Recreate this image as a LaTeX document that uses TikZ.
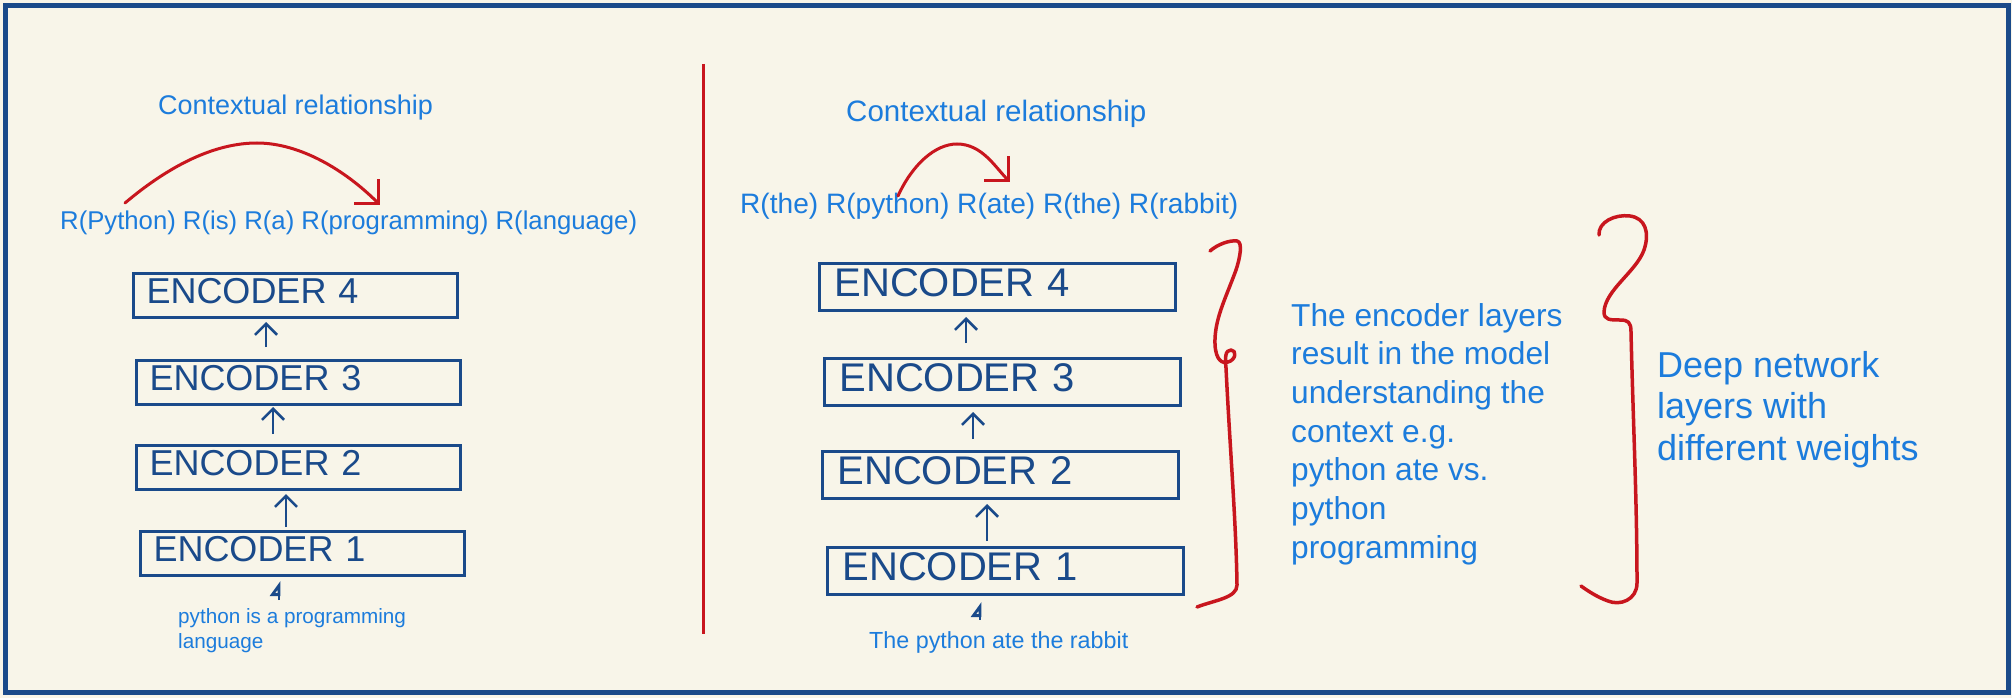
\documentclass[tikz,border=0pt]{standalone}
\usepackage{fontspec}
\setmainfont{Liberation Sans}
\usetikzlibrary{arrows.meta}
\definecolor{bgc}{HTML}{F8F5E9}
\definecolor{dblue}{HTML}{1A4A8A}
\definecolor{tblue}{HTML}{1C7CDC}
\definecolor{rred}{HTML}{C8161E}
\begin{document}
\begin{tikzpicture}[x=1pt,y=-1pt,
 encl/.style={draw=dblue, line width=3pt, text=dblue, anchor=north west, minimum height=44pt, inner xsep=13pt, inner ysep=0pt, text width=298pt, align=left, font=\fontsize{36pt}{40pt}\selectfont, text height=26pt, text depth=10pt},
 encr/.style={encl, minimum height=47pt, inner xsep=15pt, text width=326pt, font=\fontsize{40pt}{44pt}\selectfont, text height=29pt, text depth=11pt},
 txt/.style={text=tblue, inner sep=0pt, anchor=base west, align=left},
 uparr/.style={draw=dblue, line width=2.6pt, -{Straight Barb[length=11pt,width=22pt]}},
 inarr/.style={draw=dblue, line width=2.8pt, -{Triangle[open,left,length=13pt,width=18pt]}},
 relarr/.style={draw=rred, line width=3pt, line cap=round, -{Straight Barb[length=17pt,width=34pt]}},
 bracestroke/.style={draw=rred, line width=3.5pt, line cap=round, line join=round},
]
\useasboundingbox (0,0) rectangle (2012,698);
\fill[bgc] (0,0) rectangle (2012,698);
\draw[dblue, line width=5pt] (5.5,5.5) rectangle (2008,692.5);

% left panel
\node[txt, font=\fontsize{27pt}{32pt}\selectfont] (ctxl) at (158,114) {Contextual relationship};
\node[txt, font=\fontsize{25.7pt}{31pt}\selectfont] (rl) at (60,229) {R(Python) R(is) R(a) R(programming) R(language)};
\node[encl] (e4l) at (132,272) {ENCODER 4};
\node[encl] (e3l) at (135,359) {ENCODER 3};
\node[encl] (e2l) at (135,444) {ENCODER 2};
\node[encl] (e1l) at (139,530) {ENCODER 1};
% anchor base = baseline of the last line
\node[txt, font=\fontsize{20.7pt}{25pt}\selectfont] (inl) at (178,648.4) {python is a programming\\language};

\coordinate (a43l) at (266,0);
\coordinate (a32l) at (273,0);
\coordinate (a21l) at (286,0);
\coordinate (ail) at (279,0);
\draw[uparr, shorten <=12pt, shorten >=3pt] (e3l.north -| a43l) -- (e4l.south -| a43l);
\draw[uparr, shorten <=10pt, shorten >=1pt] (e2l.north -| a32l) -- (e3l.south -| a32l);
\draw[uparr, shorten <=3pt, shorten >=3pt] (e1l.north -| a21l) -- (e2l.south -| a21l);
\draw[inarr, shorten <=8pt, shorten >=4pt] (inl.north -| ail) -- (e1l.south -| ail);

\coordinate (sl) at (125,203);
\coordinate (pl) at (257,143);
\coordinate (tl) at (380,205);
\draw[relarr] (sl) .. controls (170,165) and (215,143) .. (pl) .. controls (300,143) and (345,170) .. (tl);

% divider
\draw[rred, line width=3pt] (703,64) -- (703,634);

% right panel
\node[txt, font=\fontsize{29.5pt}{35pt}\selectfont] (ctxr) at (846,121.5) {Contextual relationship};
\node[txt, font=\fontsize{28.1pt}{33pt}\selectfont] (rr) at (740,213) {R(the) R(python) R(ate) R(the) R(rabbit)};
\node[encr] (e4r) at (818,262) {ENCODER 4};
\node[encr] (e3r) at (823,357) {ENCODER 3};
\node[encr] (e2r) at (821,450) {ENCODER 2};
\node[encr] (e1r) at (826,546) {ENCODER 1};
\node[txt, font=\fontsize{23.3pt}{28pt}\selectfont] (inr) at (869,648) {The python ate the rabbit};

\coordinate (a43r) at (966,0);
\coordinate (a32r) at (973,0);
\coordinate (a21r) at (987,0);
\coordinate (air) at (980,0);
\draw[uparr, shorten <=14pt, shorten >=5pt] (e3r.north -| a43r) -- (e4r.south -| a43r);
\draw[uparr, shorten <=11pt, shorten >=5pt] (e2r.north -| a32r) -- (e3r.south -| a32r);
\draw[uparr, shorten <=5pt, shorten >=4pt] (e1r.north -| a21r) -- (e2r.south -| a21r);
\draw[inarr, shorten <=11pt, shorten >=6pt] (inr.north -| air) -- (e1r.south -| air);

\coordinate (sr) at (898,196);
\coordinate (pr) at (957,144);
\coordinate (tr) at (1010,182);
\draw[relarr] (sr) .. controls (912,165) and (935,144) .. (pr) .. controls (982,144) and (995,167) .. (tr);

% braces
\draw[bracestroke] (1210,251) .. controls (1218,244) and (1230,240) .. (1237,241)
  .. controls (1243,242) and (1240,258) .. (1236,270)
  .. controls (1225,300) and (1214,320) .. (1215,345)
  .. controls (1216,360) and (1222,364) .. (1228,362)
  .. controls (1236,360) and (1237,350) .. (1231,350)
  .. controls (1225,350) and (1225,358) .. (1226,368)
  .. controls (1230,450) and (1236,520) .. (1237,585)
  .. controls (1237,598) and (1215,600) .. (1197,607);
\node[txt, font=\fontsize{31.7pt}{38.7pt}\selectfont] (mid) at (1291,558.2) {The encoder layers\\result in the model\\understanding the\\context e.g.\\python ate vs.\\python\\programming};

\draw[bracestroke] (1599,235) .. controls (1598,222) and (1615,214) .. (1630,216)
  .. controls (1645,218) and (1650,232) .. (1644,250)
  .. controls (1636,272) and (1605,290) .. (1604,312)
  .. controls (1604,320) and (1610,320) .. (1620,320)
  .. controls (1628,320) and (1631,322) .. (1631,332)
  .. controls (1633,420) and (1637,500) .. (1637,583)
  .. controls (1637,600) and (1620,606) .. (1608,601)
  .. controls (1597,597) and (1588,591) .. (1581,586);
\node[txt, font=\fontsize{36pt}{41.5pt}\selectfont] (deep) at (1657,460) {Deep network\\layers with\\different weights};
\end{tikzpicture}
\end{document}
